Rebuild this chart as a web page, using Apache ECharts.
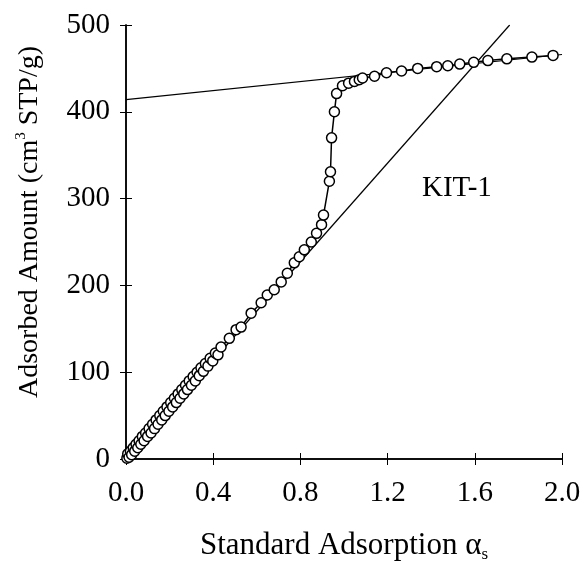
<!DOCTYPE html>
<html lang="en">
<head>
    <meta charset="UTF-8">
    <title>KIT-1 alpha-s plot</title>
    <script src="https://cdn.jsdelivr.net/npm/echarts@6/dist/echarts.min.js"></script>
    <style>
        html, body { margin: 0; padding: 0; background: #fff; }
    </style>
</head>
<body>

<div id="eCharts" style="width: 585px;height: 561px"></div>

<script>
    // 数据：alpha-s 与吸附量
    var alphaS = [
        0.004, 0.008, 0.014, 0.020, 0.026, 0.033, 0.040, 0.046, 0.054, 0.060,
        0.068, 0.075, 0.083, 0.090, 0.099, 0.106, 0.115, 0.122, 0.131, 0.138,
        0.147, 0.155, 0.164, 0.171, 0.180, 0.188, 0.197, 0.205, 0.214, 0.222,
        0.231, 0.239, 0.248, 0.256, 0.265, 0.273, 0.282, 0.290, 0.300, 0.308,
        0.318, 0.326, 0.336, 0.344, 0.355, 0.364, 0.376, 0.386, 0.398, 0.410,
        0.422, 0.436, 0.474, 0.505, 0.528, 0.574, 0.620, 0.648, 0.680, 0.712,
        0.740, 0.772, 0.795, 0.818, 0.850, 0.874, 0.897, 0.906, 0.933, 0.938,
        0.943, 0.956, 0.966, 0.993, 1.021, 1.048, 1.070, 1.085, 1.140, 1.195,
        1.264, 1.338, 1.425, 1.476, 1.531, 1.595, 1.660, 1.747, 1.862, 1.959
    ];
    var adsorbed = [
        1, 6, 2, 9, 5, 13, 9, 17, 13, 21,
        17, 26, 21, 30, 26, 35, 30, 40, 35, 45,
        40, 50, 45, 55, 50, 60, 55, 65, 60, 70,
        65, 75, 70, 80, 75, 85, 80, 90, 85, 95,
        90, 100, 96, 105, 101, 110, 107, 116, 113, 122,
        120, 129, 139, 149, 152, 168, 180, 189, 195, 204,
        214, 226, 233, 241, 250, 260, 270, 281, 320, 331,
        370, 400, 421, 430, 433, 435, 437, 439, 441, 445,
        447, 450, 452, 453, 455, 457, 459, 461, 463, 465
    ];
    // 两条切线的端点
    var upperLine = [[0, 414], [2.0, 466]];
    var lowerLine = [[0, 0], [1.76, 500]];

    var xTicks = [0, 0.4, 0.8, 1.2, 1.6, 2.0];
    var yTicks = [0, 100, 200, 300, 400, 500];

    var points = alphaS.map(function (a, i) {
        return [a, adsorbed[i]];
    });

    var serif = "'Liberation Serif', 'Times New Roman', serif";

    var myChart = echarts.init(document.getElementById("eCharts"));

    var option = {
        animation: false,
        backgroundColor: '#fff',
        grid: {left: 126, right: 23, top: 25, bottom: 102, containLabel: false, outerBoundsMode: 'none'},
        graphic: [{
            type: 'text',
            left: 422,
            top: 174,
            style: {text: 'KIT-1', font: '29px ' + serif, fill: '#000'}
        }],
        xAxis: [{
            type: 'value',
            min: xTicks[0],
            max: xTicks[xTicks.length - 1],
            interval: 0.4,
            position: 'bottom',
            name: '{t|Standard Adsorption α}{s|s}',
            nameLocation: 'middle',
            nameGap: 70,
            nameTextStyle: {
                rich: {
                    t: {fontSize: 31, fontFamily: serif, color: '#000', lineHeight: 34},
                    s: {fontSize: 17, fontFamily: serif, color: '#000', verticalAlign: 'bottom', lineHeight: 34}
                }
            },
            axisLine: {lineStyle: {color: '#000', width: 1.5}},
            axisTick: {inside: true, length: 6, lineStyle: {color: '#000'}},
            axisLabel: {
                fontSize: 29, fontFamily: serif, color: '#000', margin: 20,
                formatter: function (v) { return v.toFixed(1); }
            },
            splitLine: {show: false}
        }, {
            type: 'value',
            min: xTicks[0],
            max: xTicks[xTicks.length - 1],
            interval: 0.4,
            position: 'top',
            axisLine: {lineStyle: {color: '#000', width: 1.5}},
            axisTick: {inside: true, length: 6, lineStyle: {color: '#000'}},
            axisLabel: {show: false},
            splitLine: {show: false}
        }],
        yAxis: [{
            type: 'value',
            min: yTicks[0],
            max: yTicks[yTicks.length - 1],
            interval: 100,
            position: 'left',
            name: '{t|Adsorbed Amount (cm}{s|3}{t| STP/g)}',
            nameLocation: 'middle',
            nameGap: 80,
            nameTextStyle: {
                padding: [0, 0, 0, 40],
                rich: {
                    t: {fontSize: 28, fontFamily: serif, color: '#000', lineHeight: 32},
                    s: {fontSize: 15, fontFamily: serif, color: '#000', verticalAlign: 'top', lineHeight: 32}
                }
            },
            axisLine: {lineStyle: {color: '#000', width: 1.5}},
            axisTick: {inside: true, length: 6, lineStyle: {color: '#000'}},
            axisLabel: {fontSize: 29, fontFamily: serif, color: '#000', margin: 16},
            splitLine: {show: false}
        }, {
            type: 'value',
            min: yTicks[0],
            max: yTicks[yTicks.length - 1],
            interval: 100,
            position: 'right',
            axisLine: {lineStyle: {color: '#000', width: 1.5}},
            axisTick: {inside: true, length: 6, lineStyle: {color: '#000'}},
            axisLabel: {show: false},
            splitLine: {show: false}
        }],
        series: [{
            name: 'upper',
            type: 'line',
            data: upperLine,
            symbol: 'none',
            lineStyle: {color: '#000', width: 1.2},
            z: 2
        }, {
            name: 'lower',
            type: 'line',
            data: lowerLine,
            symbol: 'none',
            lineStyle: {color: '#000', width: 1.2},
            z: 2
        }, {
            name: 'KIT-1',
            type: 'line',
            data: points,
            symbol: 'circle',
            symbolSize: 10,
            itemStyle: {color: '#fff', borderColor: '#000', borderWidth: 1.5},
            lineStyle: {color: '#000', width: 1.5},
            z: 3
        }]
    };

    myChart.setOption(option);
</script>

</body>
</html>
